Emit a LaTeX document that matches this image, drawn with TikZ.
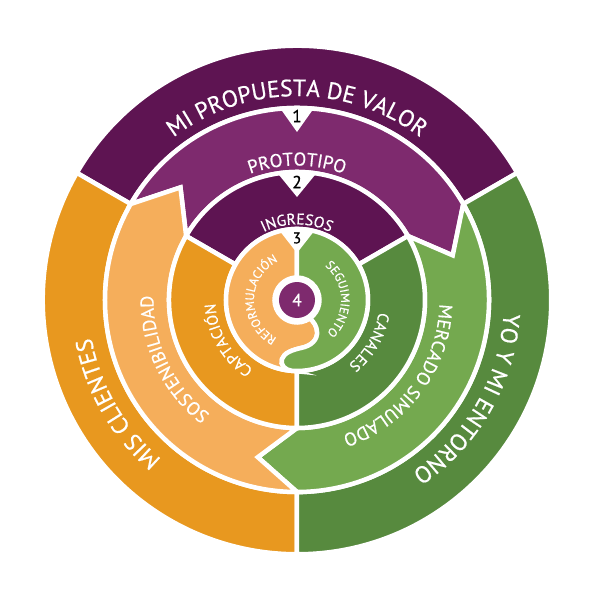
\documentclass[tikz,border=0pt]{standalone}
\usepackage{fontspec}
\setmainfont{PT Sans}[FakeBold=0.6]
\usetikzlibrary{decorations.text}
\definecolor{dpur}{HTML}{5E1452}
\definecolor{lpur}{HTML}{7E2A6E}
\definecolor{dora}{HTML}{E8981F}
\definecolor{lora}{HTML}{F5AE5B}
\definecolor{dgre}{HTML}{578A3E}
\definecolor{lgre}{HTML}{74A94F}
\newcommand\fA{\fontsize{23.5}{28}\selectfont\color{white}}
\newcommand\fB{\fontsize{18.5}{22}\selectfont\color{white}}
\newcommand\fC{\fontsize{15.5}{18}\selectfont\color{white}}
\newcommand\fD{\fontsize{12.3}{14}\selectfont\color{white}}
\newcommand\arclabel[4]{%
  \pgfmathsetmacro\lblSA{#1+95}\pgfmathsetmacro\lblEA{#1-95}%
  \path[decorate,decoration={text along path,text align=center,text={|#3|#4}}]
    (\lblSA:#2) arc[start angle=\lblSA,end angle=\lblEA,radius=#2];}
\begin{document}
\begin{tikzpicture}[x=1pt,y=1pt,
  region/.style={draw=white,line width=4.5pt,line join=miter,miter limit=20},
  numlbl/.style={inner sep=0pt,font=\fontsize{17.5}{17.5}\selectfont}]
\useasboundingbox (-297,-295) rectangle (298,300);
\fill[white] (-297,-295) rectangle (298,300);
% ---- ring A
\path[region,fill=dpur] (150:254.25) arc[start angle=150,end angle=30,radius=254.25]
  -- (30:192) arc[start angle=30,end angle=150,radius=192] -- cycle;
\path[region,fill=dora] (150:254.25) arc[start angle=150,end angle=270,radius=254.25]
  -- (270:192) arc[start angle=270,end angle=150,radius=192] -- cycle;
\path[region,fill=dgre] (-90:254.25) arc[start angle=-90,end angle=30,radius=254.25]
  -- (30:192) arc[start angle=30,end angle=-90,radius=192] -- cycle;
% ---- ring B (arrows)
\path[region,fill=lpur] (150:192) arc[start angle=150,end angle=30,radius=192]
  -- (16:162) -- (30:128) arc[start angle=30,end angle=150,radius=128] -- (136:162) -- cycle;
\path[region,fill=lgre] (30:192) arc[start angle=30,end angle=-90,radius=192]
  -- (-104:162) -- (-90:128) arc[start angle=-90,end angle=30,radius=128] -- (16:162) -- cycle;
\path[region,fill=lora] (270:192) arc[start angle=270,end angle=150,radius=192]
  -- (136:162) -- (150:128) arc[start angle=150,end angle=270,radius=128] -- (256:162) -- cycle;
% ---- ring C
\path[region,fill=dpur] (150:128) arc[start angle=150,end angle=30,radius=128]
  -- (30:71) arc[start angle=30,end angle=150,radius=71] -- cycle;
\path[region,fill=dora] (150:128) arc[start angle=150,end angle=270,radius=128]
  -- (270:71) arc[start angle=270,end angle=150,radius=71] -- cycle;
\path[region,fill=dgre] (-90:128) arc[start angle=-90,end angle=30,radius=128]
  -- (30:71) arc[start angle=30,end angle=-90,radius=71] -- cycle;
% ---- ring D
\path[region,fill=lora] (90:71) arc[start angle=90,end angle=266,radius=71]
  .. controls (-12,-70) and (-17,-65) .. (-15,-59)
  .. controls (-13,-53) and (-5,-50) .. (4,-48)
  .. controls (14,-46) and (21,-40) .. (20,-31)
  .. controls (19.5,-26) and (17,-22) .. (-55:22.5)
  arc[start angle=305,end angle=90,radius=22.5] -- cycle;
\path[region,fill=lgre] (90:71) arc[start angle=90,end angle=-94,radius=71]
  .. controls (-12,-70) and (-17,-65) .. (-15,-59)
  .. controls (-13,-53) and (-5,-50) .. (4,-48)
  .. controls (14,-46) and (21,-40) .. (20,-31)
  .. controls (19.5,-26) and (17,-22) .. (-55:22.5)
  arc[start angle=-55,end angle=90,radius=22.5] -- cycle;
% ---- centre
\fill[white] (0,0) circle[radius=23];
\fill[lpur] (0,0) circle[radius=18];
% ---- step triangles
\fill[white] (-17,192) -- (17,192) -- (0,168) -- cycle;
\fill[white] (-20,127.5) -- (20,127.5) -- (0,103) -- cycle;
\fill[white] (-18,70) -- (18,70) -- (0,47) -- cycle;
\node[numlbl] (n1) at (0,184) {1};
\node[numlbl] (n2) at (0,118) {2};
\node[numlbl,font=\fontsize{15.5}{15.5}\selectfont] (n3) at (0,62) {3};
\node[numlbl,text=white] (n4) at (0,0) {4};
% ---- labels
\arclabel{90}{204}{\fA}{MI PROPUESTA DE VALOR}
\arclabel{210}{209}{\fA}{MIS CLIENTES}
\arclabel{-30}{207}{\fA}{YO Y MI ENTORNO}
\arclabel{90}{134.5}{\fB}{PROTOTIPO}
\arclabel{205.5}{143.5}{\fB}{SOSTENIBILIDAD}
\arclabel{-36.5}{142.5}{\fB}{MERCADO SIMULADO}
\arclabel{90}{75.6}{\fC}{INGRESOS}
\arclabel{210}{81.6}{\fC}{CAPTACIÓN}
\arclabel{-30}{82.6}{\fC}{CANALES}
\arclabel{179}{43}{\fD}{REFORMULACIÓN}
\arclabel{1.5}{44}{\fD}{SEGUIMIENTO}
\end{tikzpicture}
\end{document}
